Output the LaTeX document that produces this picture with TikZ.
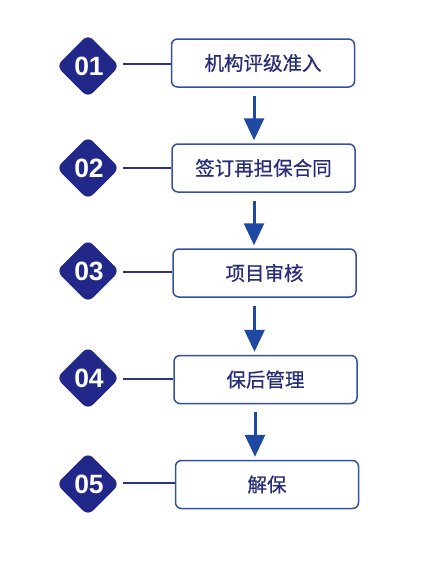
\documentclass[tikz,border=0pt]{standalone}
\usepackage{fontspec}
\usetikzlibrary{arrows.meta}
\newfontfamily\cjk{Noto Sans CJK SC}[FakeBold=0.6]
\newfontfamily\numfont{Liberation Sans}
\definecolor{navy}{HTML}{22288A}
\definecolor{boxline}{HTML}{3550A3}
\definecolor{txt}{HTML}{272C78}
\definecolor{arrowc}{HTML}{1F48A3}
\definecolor{linkc}{HTML}{2B3585}
\begin{document}
\begin{tikzpicture}[x=1pt,y=-1pt,
  stepbox/.style={draw=boxline,line width=1.5pt,rounded corners=6pt,fill=white,
    minimum width=183pt,minimum height=48pt,inner sep=0pt,
    font=\cjk\fontsize{19.5pt}{22pt}\selectfont,text=txt},
  numtag/.style={inner sep=0pt,font=\numfont\bfseries\fontsize{26.5pt}{28pt}\selectfont,text=white},
  link/.style={draw=linkc,line width=1.5pt},
  arr/.style={draw=arrowc,line width=3pt,-{Triangle[width=20pt,length=22pt]}}]
\useasboundingbox (0,0) rectangle (424,568);
% diamonds
\foreach \i/\yy in {1/66,2/168,3/271,4/378,5/484}{
  \fill[navy,rounded corners=7pt] (88,\yy-31.5) -- (119.5,\yy) -- (88,\yy+31.5) -- (56.5,\yy) -- cycle;
}
\node[numtag] (n1) at (89,66) {01};
\node[numtag] (n2) at (89,168) {02};
\node[numtag] (n3) at (89,271) {03};
\node[numtag] (n4) at (89,378) {04};
\node[numtag] (n5) at (89,484) {05};
\node[stepbox] (b1) at (263,63) {机构评级准入};
\node[stepbox] (b2) at (263.5,168) {签订再担保合同};
\node[stepbox] (b3) at (264.5,273) {项目审核};
\node[stepbox] (b4) at (265.5,379.5) {保后管理};
\node[stepbox] (b5) at (267,484.5) {解保};
\coordinate (l1) at (123,64);
\coordinate (l2) at (123,168);
\coordinate (l3) at (123,272);
\coordinate (l4) at (123,379);
\coordinate (l5) at (123,483);
\foreach \i in {1,...,5}{ \draw[link] (l\i) -- (l\i -| b\i.west); }
\foreach \a/\b/\dx in {1/2/-9,2/3/-9.5,3/4/-10,4/5/-10.5}{
  \draw[arr,shorten <=8pt,shorten >=3pt] ([xshift=\dx pt]b\a.south) -- ([xshift=\dx pt]b\a.south |- b\b.north);
}
\end{tikzpicture}
\end{document}
